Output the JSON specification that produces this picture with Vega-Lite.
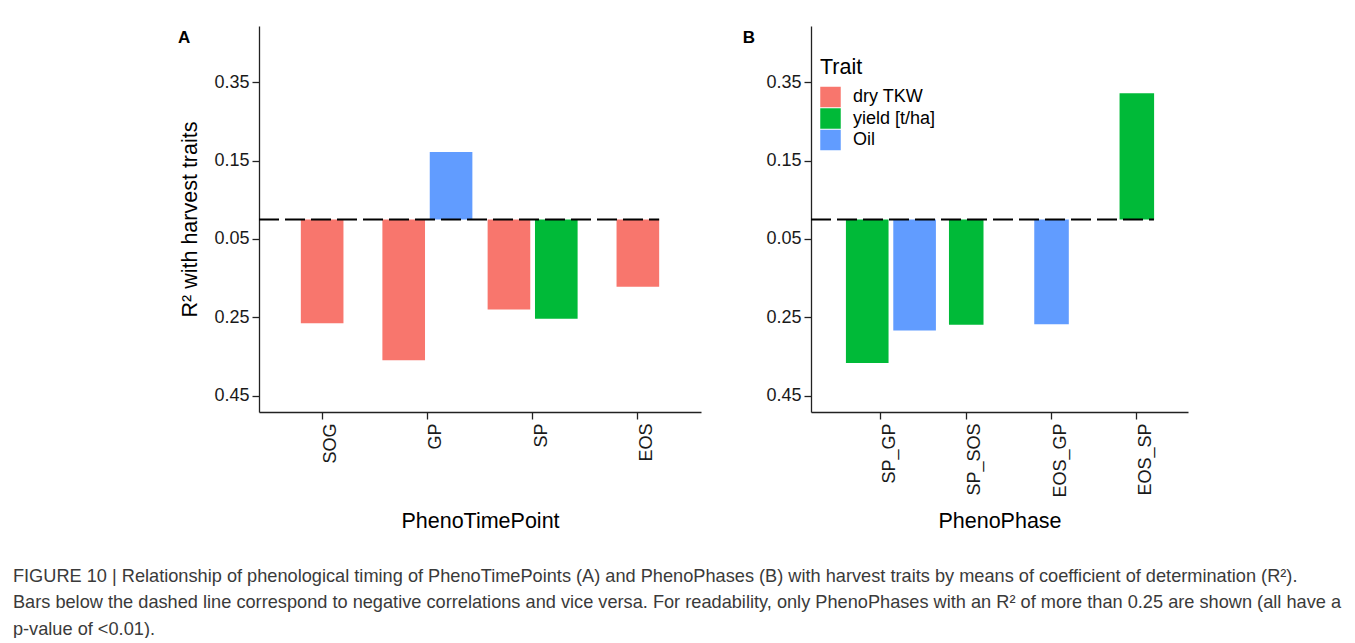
{
  "$schema": "https://vega.github.io/schema/vega-lite/v6.json",
  "background": "white",
  "padding": {"left": 12, "top": 26, "right": 0, "bottom": 0},
  "bounds": "full",
  "spacing": 41,
  "datasets": {
    "A": [
      {"PhenoTimePoint": "SOG", "Trait": "dry TKW", "r": -0.265},
      {"PhenoTimePoint": "GP", "Trait": "dry TKW", "r": -0.36},
      {"PhenoTimePoint": "GP", "Trait": "Oil", "r": 0.172},
      {"PhenoTimePoint": "SP", "Trait": "dry TKW", "r": -0.23},
      {"PhenoTimePoint": "SP", "Trait": "yield [t/ha]", "r": -0.254},
      {"PhenoTimePoint": "EOS", "Trait": "dry TKW", "r": -0.172}
    ],
    "B": [
      {"PhenoPhase": "SP_GP", "Trait": "yield [t/ha]", "r": -0.367},
      {"PhenoPhase": "SP_GP", "Trait": "Oil", "r": -0.284},
      {"PhenoPhase": "SP_SOS", "Trait": "yield [t/ha]", "r": -0.269},
      {"PhenoPhase": "EOS_GP", "Trait": "Oil", "r": -0.268},
      {"PhenoPhase": "EOS_SP", "Trait": "yield [t/ha]", "r": 0.322}
    ],
    "tagA": [{"cat": "SOG", "tag": "A"}],
    "tagB": [{"cat": "SP_GP", "tag": "B"}]
  },
  "title": {
    "text": [
      "FIGURE 10 | Relationship of phenological timing of PhenoTimePoints (A) and PhenoPhases (B) with harvest traits by means of coefficient of determination (R²).",
      "Bars below the dashed line correspond to negative correlations and vice versa. For readability, only PhenoPhases with an R² of more than 0.25 are shown (all have a",
      "p-value of <0.01)."
    ],
    "orient": "bottom",
    "anchor": "start",
    "frame": "bounds",
    "font": "Liberation Sans",
    "fontSize": 18.2,
    "fontWeight": "normal",
    "color": "#3a3a3a",
    "lineHeight": 26.5,
    "offset": 36,
    "dx": -165
  },
  "resolve": {"scale": {"color": "independent", "x": "independent", "y": "independent"}, "legend": {"color": "independent"}},
  "hconcat": [
    {
      "width": 442,
      "height": 386,
      "resolve": {"scale": {"x": "independent"}, "axis": {"x": "independent"}},
      "layer": [
        {
          "data": {"name": "A"},
          "transform": [
            {"joinaggregate": [{"op": "count", "as": "n"}], "groupby": ["PhenoTimePoint"]},
            {"window": [{"op": "row_number", "as": "slot"}], "groupby": ["PhenoTimePoint"]}
          ],
          "layer": [
            {
              "transform": [{"filter": "datum.n == 1"}],
              "mark": {"type": "bar", "width": {"band": 0.405}},
              "encoding": {
                "x": {"field": "PhenoTimePoint", "type": "nominal",
                  "scale": {"domain": ["SOG", "GP", "SP", "EOS"], "paddingInner": 0, "paddingOuter": 0.1},
                  "axis": {"title": "PhenoTimePoint", "titlePadding": 47}},
                "y": {"field": "r", "type": "quantitative",
                  "scale": {"domain": [-0.492, 0.494], "nice": false, "zero": false},
                  "axis": {"title": "R² with harvest traits", "values": [-0.45, -0.25, -0.05, 0.15, 0.35], "labelExpr": "format(abs(datum.value), '.2f')", "titlePadding": 12}},
                "color": {"field": "Trait", "type": "nominal", "legend": null,
                  "scale": {"domain": ["dry TKW", "yield [t/ha]", "Oil"], "range": ["#F8766D", "#00BA38", "#619CFF"]}}
              }
            },
            {
              "transform": [{"filter": "datum.n == 2"}],
              "mark": {"type": "bar"},
              "encoding": {
                "x": {"field": "PhenoTimePoint", "type": "nominal", "scale": {"domain": ["SOG", "GP", "SP", "EOS"]}},
                "xOffset": {"field": "slot", "type": "nominal", "scale": {"domain": [1, 2], "paddingInner": 0.1, "paddingOuter": 0.161}},
                "y": {"field": "r", "type": "quantitative"},
                "color": {"field": "Trait", "type": "nominal", "legend": null,
                  "scale": {"domain": ["dry TKW", "yield [t/ha]", "Oil"], "range": ["#F8766D", "#00BA38", "#619CFF"]}}
              }
            },
            {
              "data": {"name": "tagA"},
              "mark": {"type": "text", "font": "Liberation Sans", "fontSize": 17, "fontWeight": "bold", "color": "black", "align": "center", "baseline": "middle"},
              "encoding": {
                "x": {"field": "cat", "type": "nominal", "bandPosition": -0.812, "scale": {"domain": ["SOG", "GP", "SP", "EOS"]}},
                "y": {"datum": 0.4646},
                "text": {"field": "tag"}
              }
            }
          ]
        },
        {
          "data": {"values": [{}]},
          "mark": {"type": "rule", "strokeDash": [20, 6], "strokeWidth": 2, "color": "black"},
          "encoding": {
            "x": {"datum": 0.4, "type": "quantitative", "scale": {"domain": [0.4, 4.6], "nice": false, "zero": false}, "axis": null},
            "x2": {"datum": 4.2025},
            "y": {"datum": 0, "type": "quantitative"}
          }
        }
      ]
    },
    {
      "width": 377,
      "height": 386,
      "resolve": {"scale": {"x": "independent"}, "axis": {"x": "independent"}},
      "layer": [
        {
          "data": {"name": "B"},
          "transform": [
            {"joinaggregate": [{"op": "count", "as": "n"}], "groupby": ["PhenoPhase"]},
            {"window": [{"op": "row_number", "as": "slot"}], "groupby": ["PhenoPhase"]}
          ],
          "layer": [
            {
              "transform": [{"filter": "datum.n == 1"}],
              "mark": {"type": "bar", "width": {"band": 0.405}},
              "encoding": {
                "x": {"field": "PhenoPhase", "type": "nominal",
                  "scale": {"domain": ["SP_GP", "SP_SOS", "EOS_GP", "EOS_SP"], "paddingInner": 0, "paddingOuter": 0.21, "align": 0.762},
                  "axis": {"title": "PhenoPhase", "titlePadding": 13}},
                "y": {"field": "r", "type": "quantitative",
                  "scale": {"domain": [-0.492, 0.494], "nice": false, "zero": false},
                  "axis": {"title": null, "values": [-0.45, -0.25, -0.05, 0.15, 0.35], "labelExpr": "format(abs(datum.value), '.2f')"}},
                "color": {"field": "Trait", "type": "nominal",
                  "scale": {"domain": ["dry TKW", "yield [t/ha]", "Oil"], "range": ["#F8766D", "#00BA38", "#619CFF"]},
                  "legend": {"title": "Trait", "orient": "none", "legendX": 9, "legendY": 31,
                    "titleFont": "Liberation Sans", "titleFontSize": 21.5, "titleFontWeight": "normal", "titleColor": "black", "titlePadding": 8,
                    "labelFont": "Liberation Sans", "labelFontSize": 18, "labelColor": "black", "labelOffset": 12,
                    "symbolType": "square", "symbolSize": 420, "symbolStrokeWidth": 0, "symbolOpacity": 1, "rowPadding": 0.5}}
              }
            },
            {
              "transform": [{"filter": "datum.n == 2"}],
              "mark": {"type": "bar"},
              "encoding": {
                "x": {"field": "PhenoPhase", "type": "nominal", "scale": {"domain": ["SP_GP", "SP_SOS", "EOS_GP", "EOS_SP"]}},
                "xOffset": {"field": "slot", "type": "nominal", "scale": {"domain": [1, 2], "paddingInner": 0.1, "paddingOuter": 0.161}},
                "y": {"field": "r", "type": "quantitative"},
                "color": {"field": "Trait", "type": "nominal",
                  "scale": {"domain": ["dry TKW", "yield [t/ha]", "Oil"], "range": ["#F8766D", "#00BA38", "#619CFF"]}}
              }
            },
            {
              "data": {"name": "tagB"},
              "mark": {"type": "text", "font": "Liberation Sans", "fontSize": 17, "fontWeight": "bold", "color": "black", "align": "center", "baseline": "middle"},
              "encoding": {
                "x": {"field": "cat", "type": "nominal", "bandPosition": -1.047, "scale": {"domain": ["SP_GP", "SP_SOS", "EOS_GP", "EOS_SP"]}},
                "y": {"datum": 0.4646},
                "text": {"field": "tag"}
              }
            }
          ]
        },
        {
          "data": {"values": [{}]},
          "mark": {"type": "rule", "strokeDash": [20, 6], "strokeWidth": 2, "color": "black"},
          "encoding": {
            "x": {"datum": 0.191, "type": "quantitative", "scale": {"domain": [0.191, 4.598], "nice": false, "zero": false}, "axis": null},
            "x2": {"datum": 4.2},
            "y": {"datum": 0, "type": "quantitative"}
          }
        }
      ]
    }
  ],
  "config": {
    "font": "Liberation Sans",
    "view": {"stroke": null},
    "axis": {
      "grid": false,
      "domainColor": "#222222",
      "domainWidth": 1.3,
      "tickColor": "#222222",
      "tickWidth": 1.3,
      "tickSize": 7,
      "labelFont": "Liberation Sans",
      "labelFontSize": 18,
      "labelColor": "#1a1a1a",
      "labelPadding": 3,
      "titleFont": "Liberation Sans",
      "titleFontSize": 21.5,
      "titleFontWeight": "normal",
      "titleColor": "black"
    },
    "axisX": {"labelAngle": -90, "labelAlign": "right", "labelBaseline": "top", "labelPadding": 4}
  }
}
